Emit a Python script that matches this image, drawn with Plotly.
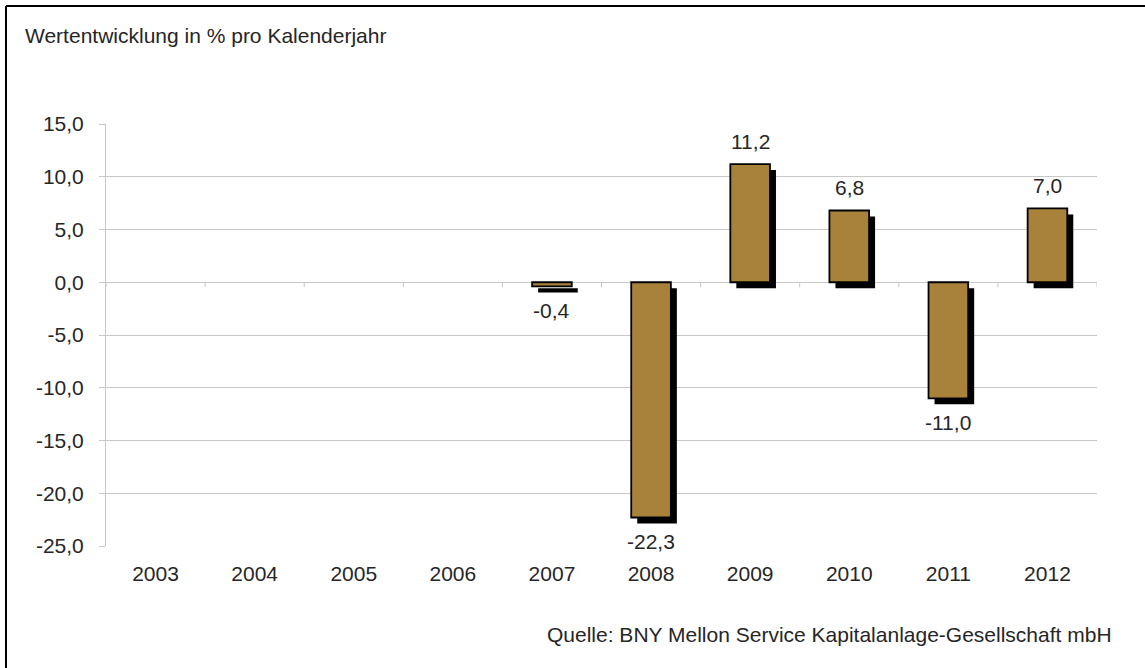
import plotly.graph_objects as go

years = ["2003", "2004", "2005", "2006", "2007", "2008", "2009", "2010", "2011", "2012"]
values = [None, None, None, None, -0.4, -22.3, 11.2, 6.8, -11.0, 7.0]
y_ticks = [15, 10, 5, 0, -5, -10, -15, -20, -25]
y_ticktext = ["15,0", "10,0", "5,0", "0,0", "-5,0", "-10,0", "-15,0", "-20,0", "-25,0"]
title_text = "Wertentwicklung in % pro Kalenderjahr"
source_text = "Quelle: BNY Mellon Service Kapitalanlage-Gesellschaft mbH"

W, H = 1145, 668
ML, MR, MT, MB = 106, 48, 124, 122
YMIN, YMAX = -25, 15
BAR_W = 0.4
SHADOW_PX = 6
FONT = "Liberation Sans, Arial, sans-serif"
FS = 21
TXT = "#262626"
GRID = "#C8C8C8"
BAR_COLOR = "#A8823A"

plot_w = W - ML - MR
plot_h = H - MT - MB
px_per_cat = plot_w / len(years)
px_per_unit = plot_h / (YMAX - YMIN)
dx = SHADOW_PX / px_per_cat
dy = SHADOW_PX / px_per_unit

xs = [y for y, v in zip(years, values) if v is not None]
vs = [v for v in values if v is not None]

fig = go.Figure()
# shadow
fig.add_trace(go.Bar(
    x=xs, y=vs, base=[-dy] * len(vs), width=BAR_W, offset=-BAR_W / 2 + dx,
    marker=dict(color="black", line=dict(width=0)), hoverinfo="skip", showlegend=False,
))
# main bars
fig.add_trace(go.Bar(
    x=xs, y=vs, width=BAR_W, offset=-BAR_W / 2,
    marker=dict(color=BAR_COLOR, line=dict(color="black", width=1.8)), showlegend=False,
))

annotations = []
for x, v in zip(xs, vs):
    annotations.append(dict(
        x=years.index(x), y=v, xref="x", yref="y", showarrow=False,
        text=f"{v:.1f}".replace(".", ","),
        yshift=23 if v >= 0 else -24,
        font=dict(family=FONT, size=FS, color=TXT),
    ))

annotations.append(dict(
    x=-(ML - 23) / plot_w, y=1 + (MT - 35) / plot_h, xref="paper", yref="paper",
    xanchor="left", yanchor="middle", showarrow=False, text=title_text,
    font=dict(family=FONT, size=FS, color=TXT),
))
annotations.append(dict(
    x=1 + (1114 - (W - MR)) / plot_w, y=-(634 - (H - MB)) / plot_h, xref="paper", yref="paper",
    xanchor="right", yanchor="middle", showarrow=False, text=source_text,
    font=dict(family=FONT, size=FS, color=TXT),
))

shapes = []
# zero line ticks at category boundaries
for i in range(len(years) + 1):
    shapes.append(dict(
        type="line", xref="x", yref="y", x0=i - 0.5, x1=i - 0.5,
        ysizemode="pixel", yanchor=0, y0=0, y1=-5,
        line=dict(color=GRID, width=1),
    ))
# outer frame (left and top)
fx = -(ML - 6) / plot_w
fy = 1 + (MT - 6) / plot_h
shapes.append(dict(type="line", xref="paper", yref="paper", x0=fx, x1=fx, y0=-(MB + 10) / plot_h, y1=fy,
                   line=dict(color="black", width=2)))
shapes.append(dict(type="line", xref="paper", yref="paper", x0=fx, x1=1 + (MR + 10) / plot_w, y0=fy, y1=fy,
                   line=dict(color="black", width=2)))

fig.update_layout(
    width=W, height=H,
    margin=dict(l=ML, r=MR, t=MT, b=MB, pad=0),
    paper_bgcolor="white", plot_bgcolor="white",
    barmode="overlay",
    separators=",.",
    font=dict(family=FONT, size=FS, color=TXT),
    annotations=annotations, shapes=shapes,
    xaxis=dict(
        type="category", categoryorder="array", categoryarray=years,
        range=[-0.5, len(years) - 0.5],
        tickvals=years, ticktext=years,
        showgrid=False, zeroline=False, showline=False,
        ticks="", ticklabelstandoff=13,
        tickfont=dict(family=FONT, size=FS, color=TXT),
        fixedrange=True,
    ),
    yaxis=dict(
        range=[YMIN, YMAX], tickvals=y_ticks, ticktext=y_ticktext,
        showgrid=True, gridcolor=GRID, gridwidth=1,
        zeroline=True, zerolinecolor=GRID, zerolinewidth=1,
        showline=True, linecolor=GRID, linewidth=1,
        ticks="outside", ticklen=6, tickcolor=GRID,
        ticklabelstandoff=11,
        tickfont=dict(family=FONT, size=FS, color=TXT),
        fixedrange=True,
    ),
)

fig.write_html(
    "out.html",
    config={"displayModeBar": False},
    post_script="document.body.style.margin='0';document.body.style.overflow='hidden';",
)
